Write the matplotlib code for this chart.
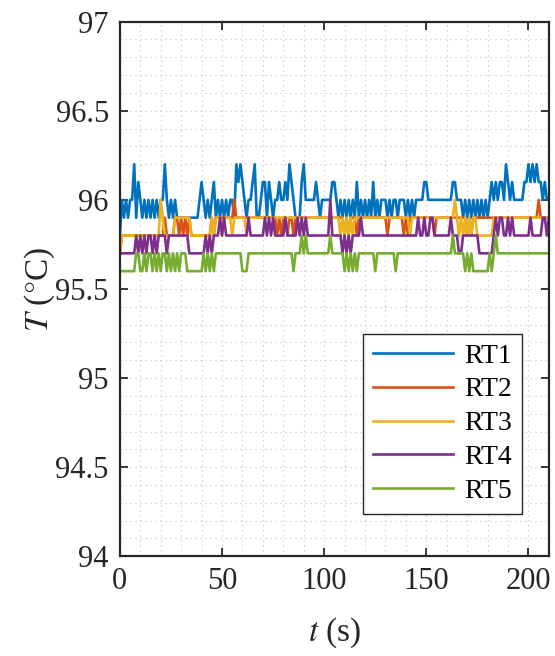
import matplotlib
matplotlib.use("Agg")
import matplotlib.pyplot as plt
from matplotlib.ticker import MultipleLocator, FormatStrFormatter

plt.rcParams['font.family'] = ['Liberation Serif', 'DejaVu Serif']
plt.rcParams['mathtext.fontset'] = 'stix'

# time axis, one sample per second
t = list(range(211))

rt1 = [95.8, 96.0, 95.9, 96.0, 95.9, 96.0, 96.0, 96.2, 95.9, 96.1,
       96.0, 95.9, 96.0, 95.9, 96.0, 95.9, 96.0, 95.9, 96.0, 95.9,
       96.0, 96.0, 96.2, 96.0, 95.9, 96.0, 95.9, 96.0, 95.9, 95.9,
       95.9, 95.9, 95.9, 95.9, 95.9, 95.9, 95.9, 95.9, 95.9, 96.0,
       96.1, 96.0, 95.9, 96.0, 95.9, 96.0, 96.1, 95.9, 96.0, 95.9,
       96.0, 95.9, 96.0, 95.9, 96.0, 96.0, 95.9, 96.2, 96.1, 96.2,
       96.1, 96.0, 95.9, 96.0, 96.0, 96.1, 96.2, 95.9, 95.9, 96.0,
       96.1, 96.1, 95.9, 96.1, 96.0, 95.9, 96.0, 96.0, 96.1, 96.0,
       96.0, 96.1, 96.0, 96.2, 96.1, 96.0, 95.9, 95.9, 95.9, 96.1,
       96.2, 96.0, 96.0, 96.0, 96.0, 96.0, 96.1, 96.0, 95.9, 96.0,
       96.0, 96.0, 96.0, 96.0, 96.1, 96.1, 96.0, 95.9, 96.0, 95.9,
       96.0, 95.9, 96.0, 95.9, 96.0, 95.9, 96.1, 95.9, 96.0, 95.9,
       96.0, 95.9, 96.0, 95.9, 96.1, 95.9, 96.0, 95.9, 96.0, 96.0,
       96.0, 95.9, 96.0, 95.9, 96.0, 96.0, 95.9, 96.0, 96.0, 96.0,
       95.9, 96.0, 95.9, 96.0, 95.9, 96.0, 96.0, 96.0, 96.0, 96.1,
       96.1, 96.0, 96.0, 96.0, 96.0, 96.0, 96.0, 96.0, 96.0, 96.0,
       96.0, 96.0, 96.0, 96.1, 96.1, 96.0, 96.0, 96.0, 95.9, 96.0,
       95.9, 96.0, 95.9, 96.0, 95.9, 96.0, 95.9, 96.0, 95.9, 96.0,
       95.9, 96.0, 96.1, 96.0, 96.1, 96.0, 96.1, 96.1, 96.0, 96.2,
       96.1, 96.0, 96.1, 96.0, 96.0, 96.0, 96.0, 96.0, 96.1, 96.1,
       96.2, 96.1, 96.2, 96.1, 96.2, 96.1, 96.1, 96.0, 96.1, 96.0, 96.0]

rt2 = [95.7, 95.8, 95.8, 95.8, 95.8, 95.8, 95.8, 95.8, 95.8, 95.8,
       95.8, 95.8, 95.8, 95.8, 95.8, 95.8, 95.8, 95.8, 95.8, 95.8,
       95.8, 95.8, 95.9, 95.8, 95.8, 95.8, 95.8, 95.9, 95.9, 95.8,
       95.9, 95.8, 95.9, 95.8, 95.9, 95.8, 95.8, 95.8, 95.8, 95.8,
       95.8, 95.8, 95.8, 95.8, 95.8, 95.9, 95.8, 95.9, 95.9, 95.9,
       95.9, 95.9, 95.9, 95.9, 95.9, 95.9, 96.0, 95.9, 95.9, 95.9,
       95.9, 95.9, 95.9, 95.9, 95.9, 95.9, 95.9, 95.9, 95.9, 95.9,
       95.9, 95.9, 95.9, 95.9, 95.9, 95.9, 95.9, 95.8, 95.9, 95.8,
       95.9, 95.9, 95.8, 95.9, 95.9, 95.8, 95.9, 95.9, 95.9, 95.9,
       95.9, 95.9, 95.9, 95.9, 95.9, 95.9, 95.9, 95.9, 95.9, 95.9,
       95.9, 95.9, 95.9, 95.9, 95.9, 95.9, 95.9, 95.9, 95.9, 95.9,
       95.8, 95.9, 95.8, 95.9, 95.9, 95.9, 95.8, 95.9, 95.9, 95.9,
       95.9, 95.9, 95.9, 95.9, 95.9, 95.9, 95.9, 95.9, 95.9, 95.9,
       95.9, 95.8, 95.9, 95.9, 95.9, 95.9, 95.9, 95.9, 95.9, 95.8,
       95.9, 95.8, 95.9, 95.9, 95.9, 95.9, 95.9, 95.9, 95.9, 95.9,
       95.9, 95.9, 95.9, 95.9, 95.8, 95.9, 95.9, 95.9, 95.9, 95.9,
       95.9, 95.9, 95.9, 95.9, 95.9, 95.9, 95.9, 95.9, 95.9, 95.9,
       95.8, 95.9, 95.8, 95.9, 95.9, 95.9, 95.9, 95.9, 95.9, 95.9,
       95.9, 95.9, 95.9, 95.9, 95.9, 95.9, 95.9, 95.9, 95.9, 95.9,
       95.9, 95.9, 95.9, 95.9, 95.9, 95.9, 95.9, 95.9, 95.9, 95.9,
       95.9, 95.9, 95.9, 95.9, 95.9, 96.0, 95.9, 95.9, 95.9, 95.9, 95.9]

rt3 = [95.7, 95.8, 95.8, 95.8, 95.8, 95.8, 95.8, 95.8, 95.8, 95.8,
       95.8, 95.8, 95.8, 95.8, 95.8, 95.8, 95.8, 95.8, 95.8, 95.8,
       96.0, 95.9, 95.8, 95.8, 95.8, 95.8, 95.8, 95.9, 95.9, 95.9,
       95.9, 95.9, 95.9, 95.9, 95.9, 95.8, 95.8, 95.8, 95.8, 95.8,
       95.8, 95.8, 95.8, 95.8, 95.8, 95.9, 95.8, 95.9, 95.9, 95.9,
       95.8, 95.9, 95.9, 95.9, 95.9, 95.8, 95.9, 95.9, 95.9, 95.9,
       95.9, 95.9, 95.8, 95.9, 95.9, 95.9, 95.9, 95.9, 95.9, 95.9,
       95.9, 95.9, 95.9, 95.9, 95.9, 95.9, 95.9, 95.9, 95.9, 95.9,
       95.9, 95.9, 95.9, 95.9, 95.9, 95.9, 95.9, 95.9, 95.9, 95.9,
       95.9, 95.9, 95.9, 95.9, 95.9, 95.9, 95.9, 95.9, 95.9, 95.9,
       95.9, 95.9, 95.9, 95.9, 95.9, 95.9, 95.9, 95.9, 95.8, 95.9,
       95.8, 95.9, 95.8, 95.9, 95.8, 95.9, 95.9, 95.9, 95.9, 95.9,
       95.9, 95.9, 95.9, 95.9, 95.9, 95.9, 95.9, 95.9, 95.9, 95.9,
       95.9, 95.9, 95.9, 95.9, 95.9, 95.9, 95.9, 95.9, 95.9, 95.9,
       95.9, 95.9, 95.8, 95.9, 95.9, 95.9, 95.9, 95.9, 95.9, 95.9,
       95.9, 95.9, 95.9, 95.9, 95.9, 95.9, 95.9, 95.9, 95.9, 95.9,
       95.9, 95.9, 95.9, 95.9, 96.0, 95.9, 95.8, 95.9, 95.8, 95.9,
       95.8, 95.9, 95.8, 95.9, 95.9, 95.8, 95.8, 95.8, 95.8, 95.8,
       95.8, 95.8, 95.8, 95.9, 95.9, 95.9, 95.9, 95.9, 95.9, 95.9,
       95.9, 95.9, 95.9, 95.9, 95.9, 95.9, 95.9, 95.9, 95.9, 95.9,
       95.9, 95.9, 95.9, 95.9, 95.9, 95.9, 95.9, 95.9, 95.9, 95.9, 95.9]

rt4 = [95.7, 95.7, 95.7, 95.7, 95.7, 95.7, 95.7, 95.7, 95.8, 95.7,
       95.8, 95.7, 95.8, 95.7, 95.8, 95.8, 95.7, 95.8, 95.7, 95.8,
       95.8, 95.8, 95.8, 95.7, 95.8, 95.8, 95.8, 95.8, 95.8, 95.8,
       95.8, 95.8, 95.8, 95.8, 95.7, 95.7, 95.7, 95.7, 95.7, 95.7,
       95.7, 95.7, 95.8, 95.7, 95.8, 95.7, 95.8, 95.8, 95.8, 95.9,
       95.8, 95.9, 95.8, 95.8, 95.8, 95.8, 95.8, 95.8, 95.8, 95.8,
       95.8, 95.8, 95.8, 95.9, 95.8, 95.8, 95.8, 95.8, 95.8, 95.8,
       95.8, 95.9, 95.8, 95.9, 95.8, 95.9, 95.8, 95.8, 95.8, 95.8,
       95.8, 95.9, 95.8, 95.8, 95.8, 95.8, 95.8, 95.9, 95.8, 95.9,
       95.8, 95.9, 95.8, 95.8, 95.8, 95.8, 95.8, 95.8, 95.8, 95.8,
       95.8, 95.8, 95.8, 96.0, 95.8, 95.8, 95.8, 95.8, 95.8, 95.7,
       95.8, 95.7, 95.8, 95.7, 95.8, 95.8, 95.8, 95.8, 95.9, 95.8,
       95.8, 95.8, 95.8, 95.8, 95.8, 95.8, 95.8, 95.8, 95.8, 95.8,
       95.8, 95.8, 95.8, 95.8, 95.8, 95.8, 95.8, 95.8, 95.8, 95.8,
       95.8, 95.8, 95.8, 95.8, 95.8, 95.8, 95.9, 95.8, 95.8, 95.9,
       95.8, 95.8, 95.9, 95.9, 95.8, 95.8, 95.8, 95.8, 95.8, 95.8,
       95.8, 95.8, 95.9, 95.8, 95.8, 95.8, 95.7, 95.7, 95.8, 95.8,
       95.8, 95.8, 95.8, 95.8, 95.8, 95.8, 95.7, 95.7, 95.7, 95.7,
       95.7, 95.7, 95.7, 95.8, 95.9, 95.8, 95.9, 95.9, 95.8, 95.8,
       95.9, 95.8, 95.9, 95.8, 95.8, 95.8, 95.8, 95.8, 95.8, 95.8,
       95.8, 95.9, 95.8, 95.8, 95.8, 95.8, 95.8, 95.9, 95.9, 95.8, 95.9]

rt5 = [95.6, 95.6, 95.6, 95.6, 95.6, 95.6, 95.6, 95.6, 95.7, 95.7,
       95.6, 95.6, 95.7, 95.6, 95.7, 95.7, 95.6, 95.7, 95.6, 95.7,
       95.6, 95.7, 95.7, 95.6, 95.7, 95.6, 95.7, 95.6, 95.7, 95.6,
       95.7, 95.7, 95.7, 95.6, 95.6, 95.6, 95.6, 95.6, 95.6, 95.6,
       95.6, 95.7, 95.6, 95.7, 95.6, 95.7, 95.6, 95.7, 95.7, 95.7,
       95.7, 95.7, 95.7, 95.7, 95.7, 95.7, 95.7, 95.7, 95.7, 95.7,
       95.6, 95.6, 95.6, 95.7, 95.7, 95.7, 95.7, 95.7, 95.7, 95.7,
       95.7, 95.7, 95.7, 95.7, 95.7, 95.7, 95.7, 95.7, 95.7, 95.7,
       95.7, 95.7, 95.7, 95.7, 95.7, 95.6, 95.7, 95.7, 95.7, 95.8,
       95.7, 95.8, 95.7, 95.7, 95.7, 95.7, 95.7, 95.7, 95.7, 95.7,
       95.7, 95.7, 95.7, 95.8, 95.7, 95.7, 95.7, 95.7, 95.7, 95.7,
       95.6, 95.7, 95.6, 95.7, 95.6, 95.7, 95.6, 95.7, 95.7, 95.7,
       95.7, 95.7, 95.7, 95.7, 95.7, 95.6, 95.7, 95.7, 95.7, 95.7,
       95.7, 95.7, 95.7, 95.7, 95.7, 95.6, 95.7, 95.7, 95.7, 95.7,
       95.7, 95.7, 95.7, 95.7, 95.7, 95.7, 95.7, 95.7, 95.7, 95.7,
       95.7, 95.7, 95.7, 95.7, 95.7, 95.7, 95.7, 95.7, 95.7, 95.7,
       95.7, 95.7, 95.7, 95.8, 95.7, 95.7, 95.7, 95.7, 95.7, 95.6,
       95.7, 95.6, 95.7, 95.6, 95.6, 95.6, 95.6, 95.6, 95.6, 95.6,
       95.6, 95.7, 95.6, 95.7, 95.8, 95.7, 95.7, 95.7, 95.7, 95.7,
       95.7, 95.7, 95.7, 95.7, 95.7, 95.7, 95.7, 95.7, 95.7, 95.7,
       95.7, 95.7, 95.7, 95.7, 95.7, 95.7, 95.7, 95.7, 95.7, 95.7, 95.7]

series = [rt1, rt2, rt3, rt4, rt5]
labels = ["RT1", "RT2", "RT3", "RT4", "RT5"]
colors = ["#0072BD", "#D95319", "#EDB120", "#7E2F8E", "#77AC30"]

fig = plt.figure(figsize=(5.55, 6.56), dpi=100)
ax = fig.add_axes([0.216, 0.152, 0.773, 0.815])

for y, lab, c in zip(series, labels, colors):
    ax.plot(t, y, color=c, lw=1.9, label=lab)

ax.set_xlim(0, 210)
ax.set_ylim(94, 97)
ax.xaxis.set_major_locator(MultipleLocator(50))
ax.xaxis.set_minor_locator(MultipleLocator(10))
ax.yaxis.set_major_locator(MultipleLocator(0.5))
ax.yaxis.set_minor_locator(MultipleLocator(0.1))
ax.yaxis.set_major_formatter(FormatStrFormatter('%g'))

ax.grid(which='both', color='#c0c0c0', ls=(0, (1, 3.5)), lw=0.8)
ax.set_axisbelow(True)

ax.tick_params(which='major', direction='in', length=6, width=1.3,
               top=True, right=True, labelsize=22, colors='#262626', pad=8)
ax.tick_params(which='minor', length=0, top=True, right=True)
for s in ax.spines.values():
    s.set_linewidth(1.6)
    s.set_color('#262626')

ax.set_xlabel(r'$t$ (s)', fontsize=24, color='#262626', labelpad=14)
ax.set_ylabel(r'$T$ ($\degree$C)', fontsize=24, color='#262626', labelpad=-1)

leg = ax.legend(loc='lower right', bbox_to_anchor=(0.937, 0.08), fontsize=20,
                frameon=True, fancybox=False, handlelength=2.9,
                borderpad=0.35, labelspacing=0.3, handletextpad=0.4,
                borderaxespad=0)
leg.get_frame().set_edgecolor('#262626')
leg.get_frame().set_linewidth(1.0)
leg.get_frame().set_alpha(1)

fig.savefig("out.png", dpi=100)
